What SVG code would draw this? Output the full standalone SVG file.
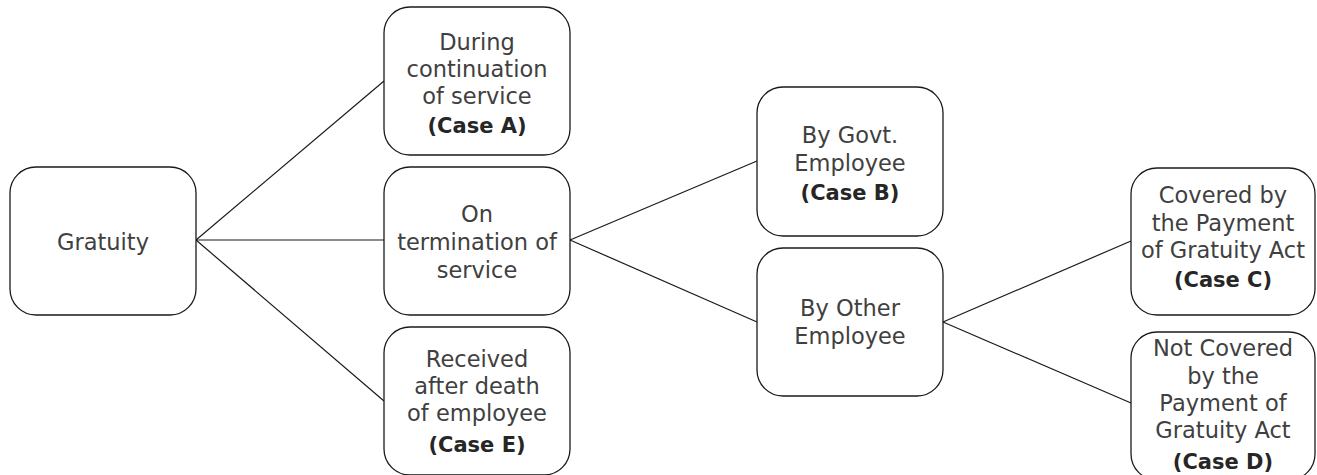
<svg xmlns="http://www.w3.org/2000/svg" width="1317" height="475" viewBox="0 0 1317 475">
<style>
.box{fill:#fff;stroke:#1a1a1a;stroke-width:1.3}
.t{font-family:"DejaVu Sans",sans-serif;font-size:22.5px;fill:#404040;text-anchor:middle}
.b{font-weight:bold;font-size:21px;fill:#262626}
.c{stroke:#1a1a1a;stroke-width:1.2;fill:none}
</style>
<rect width="1317" height="475" fill="#fff"/>
<g id="connectors">
<line class="c" x1="196" y1="240" x2="384" y2="81"/>
<line class="c" x1="196" y1="240" x2="384" y2="240"/>
<line class="c" x1="196" y1="240" x2="384" y2="401"/>
<line class="c" x1="570" y1="240" x2="757" y2="161"/>
<line class="c" x1="570" y1="240" x2="757" y2="322"/>
<line class="c" x1="943" y1="322" x2="1131" y2="241"/>
<line class="c" x1="943" y1="322" x2="1131" y2="403"/>
</g>
<g id="gratuity">
<rect class="box" x="10" y="167" width="186" height="148" rx="26"/>
<text class="t" x="103" y="250">Gratuity</text>
</g>
<g id="caseA">
<rect class="box" x="384" y="7" width="186" height="148" rx="26"/>
<text class="t" x="477" y="50">During</text>
<text class="t" x="477" y="77">continuation</text>
<text class="t" x="477" y="104">of service</text>
<text class="t b" x="477" y="133">(Case A)</text>
</g>
<g id="termination">
<rect class="box" x="384" y="167" width="186" height="148" rx="26"/>
<text class="t" x="477" y="222">On</text>
<text class="t" x="477" y="250">termination of</text>
<text class="t" x="477" y="278">service</text>
</g>
<g id="caseE">
<rect class="box" x="384" y="327" width="186" height="148" rx="26"/>
<text class="t" x="477" y="367">Received</text>
<text class="t" x="477" y="394">after death</text>
<text class="t" x="477" y="421">of employee</text>
<text class="t b" x="477" y="452">(Case E)</text>
</g>
<g id="caseB">
<rect class="box" x="757" y="87" width="186" height="149" rx="26"/>
<text class="t" x="850" y="143">By Govt.</text>
<text class="t" x="850" y="171">Employee</text>
<text class="t b" x="850" y="200">(Case B)</text>
</g>
<g id="other">
<rect class="box" x="757" y="248" width="186" height="148" rx="26"/>
<text class="t" x="850" y="316">By Other</text>
<text class="t" x="850" y="344">Employee</text>
</g>
<g id="caseC">
<rect class="box" x="1131" y="168" width="184" height="147" rx="26"/>
<text class="t" x="1223" y="203">Covered by</text>
<text class="t" x="1223" y="231">the Payment</text>
<text class="t" x="1223" y="258">of Gratuity Act</text>
<text class="t b" x="1223" y="287">(Case C)</text>
</g>
<g id="caseD">
<rect class="box" x="1131" y="332" width="184" height="148" rx="26"/>
<text class="t" x="1223" y="356">Not Covered</text>
<text class="t" x="1223" y="384">by the</text>
<text class="t" x="1223" y="411">Payment of</text>
<text class="t" x="1223" y="438">Gratuity Act</text>
<text class="t b" x="1223" y="469">(Case D)</text>
</g>
</svg>
